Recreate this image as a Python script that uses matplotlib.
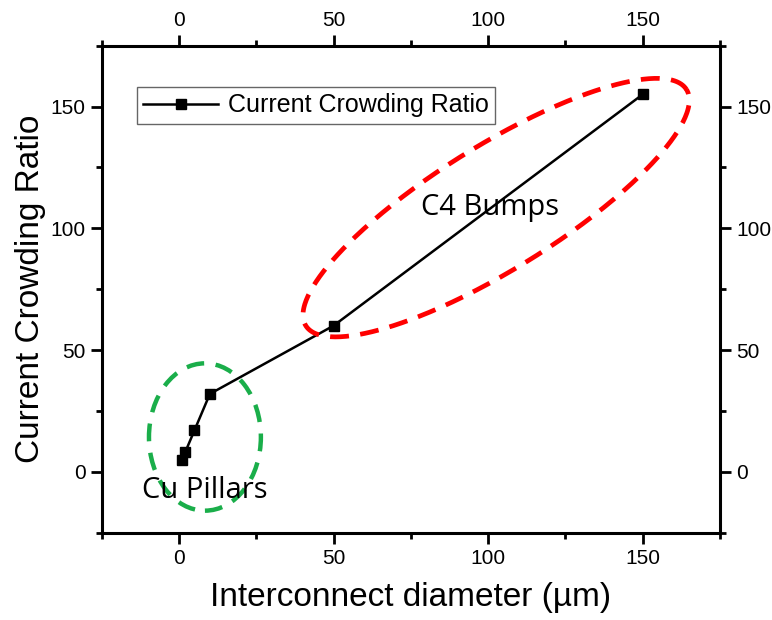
import numpy as np
import matplotlib
matplotlib.use('Agg')
import matplotlib.pyplot as plt
from matplotlib.patches import Ellipse
from matplotlib.ticker import MultipleLocator

# data
diameter = [1, 2, 5, 10, 50, 150]
ratio = [5, 8, 17, 32, 60, 155]
series_name = 'Current Crowding Ratio'

plt.rcParams['font.family'] = ['Liberation Sans', 'DejaVu Sans']

W, H = 772, 620
fig = plt.figure(figsize=(W / 100, H / 100), dpi=100)
ax = fig.add_axes([0.1317, 0.1408, 0.8009, 0.7855])

ax.plot(diameter, ratio, color='black', lw=1.8, marker='s', markersize=7,
        label=series_name)

ax.set_xlim(-25, 175)
ax.set_ylim(-25, 175)
ax.xaxis.set_major_locator(MultipleLocator(50))
ax.xaxis.set_minor_locator(MultipleLocator(25))
ax.yaxis.set_major_locator(MultipleLocator(50))
ax.yaxis.set_minor_locator(MultipleLocator(25))
ax.tick_params(which='both', direction='out', top=True, right=True,
               labeltop=True, labelright=True, width=2, labelsize=15)
ax.tick_params(which='major', length=8)
ax.tick_params(which='minor', length=4)
for sp in ax.spines.values():
    sp.set_linewidth(2.2)

ax.set_xlabel('Interconnect diameter (µm)', fontsize=24, labelpad=10)
ax.set_ylabel('Current Crowding Ratio', fontsize=24, labelpad=3)

leg = ax.legend(loc='upper left', bbox_to_anchor=(0.057, 0.915), borderaxespad=0,
                fancybox=False, edgecolor='#666666', fontsize=18, handlelength=3.0,
                handletextpad=0.4, borderpad=0.25, framealpha=1)
leg.get_frame().set_linewidth(1)

# pixel -> data scale for drawing the rotated ellipse
sx = 0.8009 * W / 200.0
sy = 0.7855 * H / 200.0
t = np.linspace(0, 2 * np.pi, 400)
th = np.deg2rad(31.8)
a, b = 224, 62
px = a * np.cos(t) * np.cos(th) - b * np.sin(t) * np.sin(th)
py = a * np.cos(t) * np.sin(th) + b * np.sin(t) * np.cos(th)
ax.plot(102.6 + px / sx, 108.5 + py / sy, color='#ff0000', lw=3.4,
        dashes=(4, 2.4))

ax.add_patch(Ellipse((8.4, 14.3), 36.2, 60.5, fill=False, edgecolor='#1aae4a',
                     lw=3.2, linestyle=(0, (4, 2.6))))

ax.text(100.6, 108.5, 'C4 Bumps', fontsize=21, family=['Open Sans', 'DejaVu Sans'],
        ha='center', va='center')
ax.text(8.4, -7.5, 'Cu Pillars', fontsize=21, family=['Open Sans', 'DejaVu Sans'],
        ha='center', va='center')

fig.savefig('out.png', dpi=100)
